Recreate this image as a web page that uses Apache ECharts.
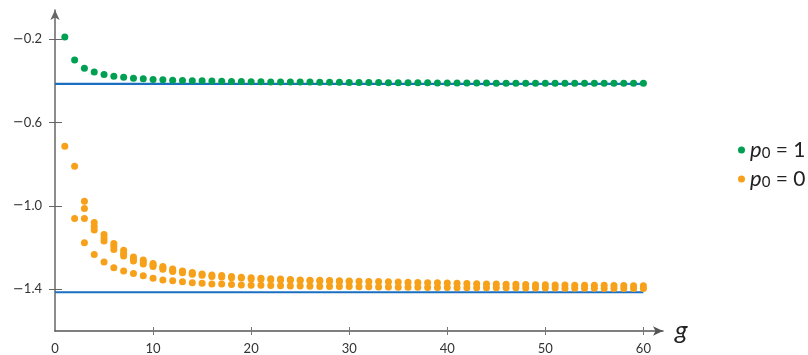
<!DOCTYPE html>
<html>
<head>
<meta charset="utf-8">
<script src="https://cdn.jsdelivr.net/npm/echarts@6/dist/echarts.min.js"></script>
<style>
  html, body { margin: 0; padding: 0; background: #fff; }
  #chart { width: 808px; height: 355px; }
</style>
</head>
<body>
<div id="chart"></div>
<script>
// generation index g = 1..60
const gs = Array.from({ length: 60 }, (_, i) => i + 1)

// p0 = 1 (green)
const greenVals = [
  -0.190, -0.300, -0.339, -0.357, -0.369, -0.378, -0.383, -0.387, -0.390, -0.393,
  -0.395, -0.397, -0.398, -0.399, -0.400, -0.401, -0.402, -0.403, -0.403, -0.404,
  -0.404, -0.405, -0.405, -0.406, -0.406, -0.406, -0.407, -0.407, -0.407, -0.408,
  -0.408, -0.408, -0.408, -0.409, -0.409, -0.409, -0.409, -0.409, -0.410, -0.410,
  -0.410, -0.410, -0.410, -0.410, -0.411, -0.411, -0.411, -0.411, -0.411, -0.411,
  -0.411, -0.411, -0.412, -0.412, -0.412, -0.412, -0.412, -0.412, -0.412, -0.412
]

// p0 = 0 (orange), several points per g
const orangeTop = [
  -0.714, -0.810, -0.977, -1.079, -1.137, -1.180, -1.213, -1.245, -1.259, -1.276,
  -1.290, -1.302, -1.312, -1.319, -1.326, -1.331, -1.334, -1.338, -1.342, -1.345,
  -1.347, -1.349, -1.351, -1.353, -1.355, -1.356, -1.357, -1.358, -1.359, -1.360,
  -1.361, -1.362, -1.363, -1.364, -1.365, -1.366, -1.367, -1.368, -1.369, -1.370,
  -1.371, -1.372, -1.373, -1.374, -1.375, -1.376, -1.376, -1.377, -1.378, -1.378,
  -1.379, -1.379, -1.380, -1.380, -1.381, -1.381, -1.382, -1.382, -1.383, -1.383
]
const orangeMid = [
  null, null, -1.012, -1.099, -1.154, -1.194, -1.228, -1.254, -1.268, -1.283,
  -1.297, -1.308, -1.316, -1.324
]
const orangeBot = [
  null, -1.060, -1.060, -1.115, -1.168, -1.209, -1.240, -1.264, -1.278, -1.290,
  -1.304, -1.314, -1.321, -1.328, -1.333, -1.338, -1.341, -1.344, -1.346, -1.350,
  -1.352, -1.354, -1.355, -1.357, -1.358, -1.359, -1.360, -1.361, -1.362, -1.363
]
const orangeLow = [
  null, null, -1.177, -1.233, -1.269, -1.296, -1.312, -1.324, -1.335, -1.347,
  -1.355, -1.359, -1.364, -1.368, -1.371, -1.374, -1.375, -1.377, -1.379, -1.380,
  -1.381, -1.382, -1.383, -1.384, -1.384, -1.385, -1.386, -1.386, -1.387, -1.387,
  -1.388, -1.388, -1.389, -1.389, -1.390, -1.390, -1.390, -1.391, -1.391, -1.391,
  -1.392, -1.392, -1.392, -1.393, -1.393, -1.393, -1.393, -1.394, -1.394, -1.394,
  -1.394, -1.395, -1.395, -1.395, -1.395, -1.396, -1.396, -1.396, -1.396, -1.396
]

// limits: -(sqrt2 - 1) and -sqrt2
const limitVals = [-0.4142, -1.4142]
const limitRange = [0, 60]

const yTicks = [-1.4, -1.0, -0.6, -0.2]
const xLabels = [0, 10, 20, 30, 40, 50, 60]
const xTicks = [10, 20, 30, 40, 50, 60]

const FONT = 'Lato'
const GREEN = '#00a052'
const ORANGE = '#f7a11a'
const BLUE = '#1b6fc0'

const toPairs = rows => {
  const out = []
  rows.forEach(row => row.forEach((v, i) => { if (v != null) out.push([gs[i], v]) }))
  return out
}

const chart = echarts.init(document.getElementById('chart'))

const limitSeries = limitVals.map(v => ({
  type: 'line',
  data: limitRange.map(g => [g, v]),
  symbol: 'none',
  silent: true,
  z: 1,
  lineStyle: { color: BLUE, width: 2.2 }
}))

const option = {
  animation: false,
  backgroundColor: '#fff',
  grid: { left: 55, right: 145, top: 10, bottom: 24 },
  legend: {
    data: ['p1', 'p0'],
    orient: 'vertical',
    left: 733,
    top: 134,
    icon: 'circle',
    itemWidth: 7,
    itemHeight: 7,
    itemGap: 7,
    formatter: name => name === 'p1' ? '{i|p}{s|0}{n| = 1}' : '{i|p}{s|0}{n| = 0}',
    textStyle: {
      color: '#222',
      rich: {
        i: { fontFamily: FONT, fontStyle: 'italic', fontSize: 22, lineHeight: 21, verticalAlign: 'middle' },
        s: { fontFamily: FONT, fontSize: 15, lineHeight: 15, verticalAlign: 'bottom' },
        n: { fontFamily: FONT, fontSize: 21, lineHeight: 21, verticalAlign: 'middle' }
      }
    }
  },
  xAxis: [
    {
      type: 'value',
      min: 0,
      max: 62,
      name: 'g',
      nameGap: 12,
      nameTextStyle: { fontFamily: FONT, fontStyle: 'italic', fontSize: 26, color: '#222', verticalAlign: 'middle' },
      axisLine: { onZero: false, symbol: ['none', 'arrow'], symbolSize: [7, 10], lineStyle: { color: '#555', width: 1.5 } },
      axisTick: { show: true, length: 4, customValues: xTicks, lineStyle: { color: '#777' } },
      axisLabel: { customValues: xLabels, margin: 11, fontFamily: FONT, fontSize: 13, color: '#333' },
      splitLine: { show: false }
    },
    {
      type: 'value',
      min: 0,
      max: 62,
      position: 'bottom',
      axisLine: { show: false, onZero: false },
      axisTick: { show: true, inside: true, length: 4, customValues: xTicks, lineStyle: { color: '#777' } },
      axisLabel: { show: false },
      splitLine: { show: false }
    }
  ],
  yAxis: [
    {
      type: 'value',
      min: -1.6,
      max: -0.06,
      axisLine: { show: true, onZero: false, symbol: ['none', 'arrow'], symbolSize: [7, 10], lineStyle: { color: '#666', width: 1.5 } },
      axisTick: { show: true, length: 6, customValues: yTicks, lineStyle: { color: '#666' } },
      axisLabel: {
        customValues: yTicks,
        margin: 13,
        fontFamily: FONT,
        fontSize: 13,
        color: '#333',
        formatter: v => (v < 0 ? '{m|\u2212}' : '') + Math.abs(v).toFixed(1),
        rich: {
          m: { fontFamily: 'DejaVu Sans', fontSize: 13, color: '#333' }
        }
      },
      splitLine: { show: false }
    },
    {
      type: 'value',
      min: -1.6,
      max: -0.06,
      position: 'left',
      axisLine: { show: false, onZero: false },
      axisTick: { show: true, inside: true, length: 7, customValues: yTicks, lineStyle: { color: '#666' } },
      axisLabel: { show: false },
      splitLine: { show: false }
    }
  ],
  series: [
    ...limitSeries,
    {
      name: 'p1',
      type: 'scatter',
      symbolSize: 7,
      z: 3,
      itemStyle: { color: GREEN, opacity: 1 },
      data: greenVals.map((v, i) => [gs[i], v])
    },
    {
      name: 'p0',
      type: 'scatter',
      symbolSize: 7,
      z: 3,
      itemStyle: { color: ORANGE, opacity: 1 },
      data: toPairs([orangeTop, orangeMid, orangeBot, orangeLow])
    }
  ]
}

chart.setOption(option)
</script>
</body>
</html>
